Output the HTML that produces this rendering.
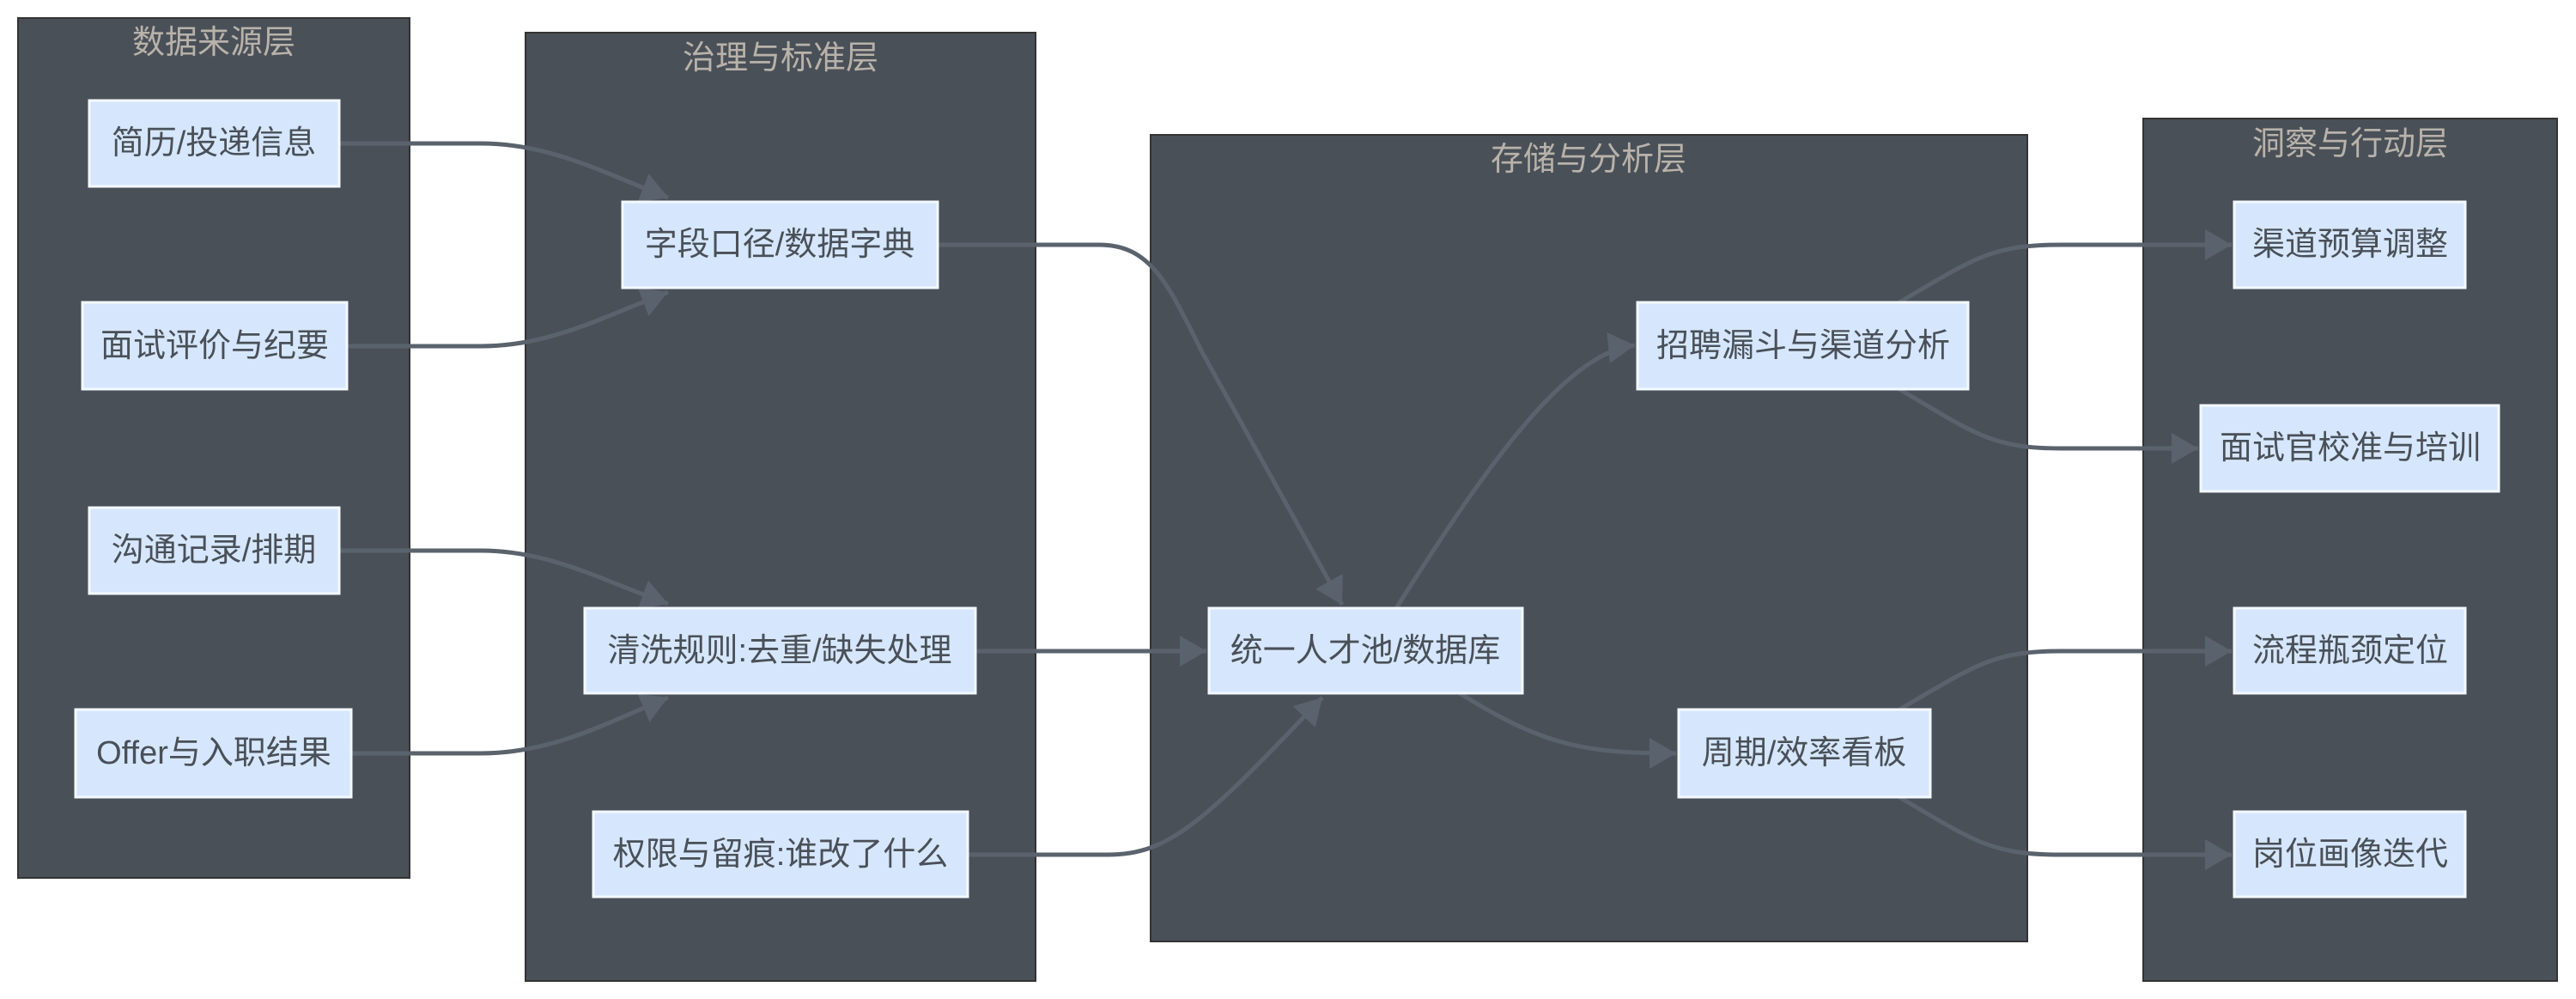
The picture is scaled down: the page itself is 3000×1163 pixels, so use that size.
<!DOCTYPE html>
<html><head><meta charset="utf-8"><style>
html,body{margin:0;padding:0;background:#fff;}
svg{display:block;}
.cl{fill:#4a5058;stroke:#333;stroke-width:2;}
.ct{fill:#b8b2aa;font-size:38px;font-family:"Liberation Sans","Noto Sans CJK SC",sans-serif;text-anchor:middle;}
.nd{fill:#d6e7fd;stroke:#f4f8ff;stroke-width:3;}
.nt{fill:#4a5058;font-size:38px;font-family:"Liberation Sans","Noto Sans CJK SC",sans-serif;text-anchor:middle;dominant-baseline:central;}
.e{fill:none;stroke:#5a636d;stroke-width:5;marker-end:url(#a);}
</style></head><body>
<svg width="3000" height="1163" viewBox="0 0 3000 1163" xmlns="http://www.w3.org/2000/svg">
<defs><marker id="a" markerWidth="10" markerHeight="10" refX="9" refY="5" orient="auto" markerUnits="userSpaceOnUse" viewBox="0 0 10 10" style="overflow:visible"><path d="M-22,-13 L9,5 L-22,23 Z" fill="#5a636d"/></marker></defs>
<rect class="cl" x="21" y="21" width="456" height="1001"/>
<text class="ct" x="249" y="62">数据来源层</text>
<rect class="cl" x="612" y="38" width="594" height="1104"/>
<text class="ct" x="909" y="80">治理与标准层</text>
<rect class="cl" x="1340" y="157" width="1021" height="939"/>
<text class="ct" x="1850" y="198">存储与分析层</text>
<rect class="cl" x="2496" y="138" width="482" height="1004"/>
<text class="ct" x="2737" y="180">洞察与行动层</text>

<path class="e" d="M394,167 L560,167 C640,167 700,200 778,230"/>
<path class="e" d="M404,403 L560,403 C640,403 700,370 778,340"/>
<path class="e" d="M394,641 L560,641 C640,641 700,675 778,703"/>
<path class="e" d="M409,877 L560,877 C640,877 700,845 778,812"/>
<path class="e" d="M1092,285 L1280,285 C1340,285 1360,330 1400,410 L1563,704"/>
<path class="e" d="M1136,758 L1405,758"/>
<path class="e" d="M1127,995 L1290,995 C1360,995 1400,960 1540,812"/>
<path class="e" d="M1626,708 C1720,560 1820,410 1904,402"/>
<path class="e" d="M1700,807 C1800,870 1850,877 1952,877"/>
<path class="e" d="M2212,352 C2300,300 2320,285 2400,285 L2599,285"/>
<path class="e" d="M2212,453 C2300,505 2320,522 2400,522 L2560,522"/>
<path class="e" d="M2212,826 C2300,775 2320,758 2400,758 L2599,758"/>
<path class="e" d="M2212,928 C2300,980 2320,995 2400,995 L2599,995"/>

<rect class="nd" x="104" y="117" width="291" height="100"/><text class="nt" x="249" y="167">简历/投递信息</text>
<rect class="nd" x="96" y="352" width="308" height="101"/><text class="nt" x="250" y="403">面试评价与纪要</text>
<rect class="nd" x="104" y="591" width="291" height="100"/><text class="nt" x="249" y="641">沟通记录/排期</text>
<rect class="nd" x="88" y="826" width="321" height="102"/><text class="nt" x="249" y="877">Offer与入职结果</text>

<rect class="nd" x="725" y="235" width="367" height="100"/><text class="nt" x="908" y="285">字段口径/数据字典</text>
<rect class="nd" x="681" y="708" width="455" height="99"/><text class="nt" x="908" y="758">清洗规则:去重/缺失处理</text>
<rect class="nd" x="691" y="945" width="436" height="99"/><text class="nt" x="909" y="995">权限与留痕:谁改了什么</text>

<rect class="nd" x="1408" y="708" width="365" height="99"/><text class="nt" x="1590" y="758">统一人才池/数据库</text>
<rect class="nd" x="1907" y="352" width="385" height="101"/><text class="nt" x="2100" y="403">招聘漏斗与渠道分析</text>
<rect class="nd" x="1955" y="826" width="293" height="102"/><text class="nt" x="2101" y="877">周期/效率看板</text>

<rect class="nd" x="2602" y="235" width="269" height="100"/><text class="nt" x="2737" y="285">渠道预算调整</text>
<rect class="nd" x="2563" y="472" width="347" height="100"/><text class="nt" x="2737" y="522">面试官校准与培训</text>
<rect class="nd" x="2602" y="708" width="269" height="99"/><text class="nt" x="2737" y="758">流程瓶颈定位</text>
<rect class="nd" x="2602" y="945" width="269" height="99"/><text class="nt" x="2737" y="995">岗位画像迭代</text>
</svg>
</body></html>
